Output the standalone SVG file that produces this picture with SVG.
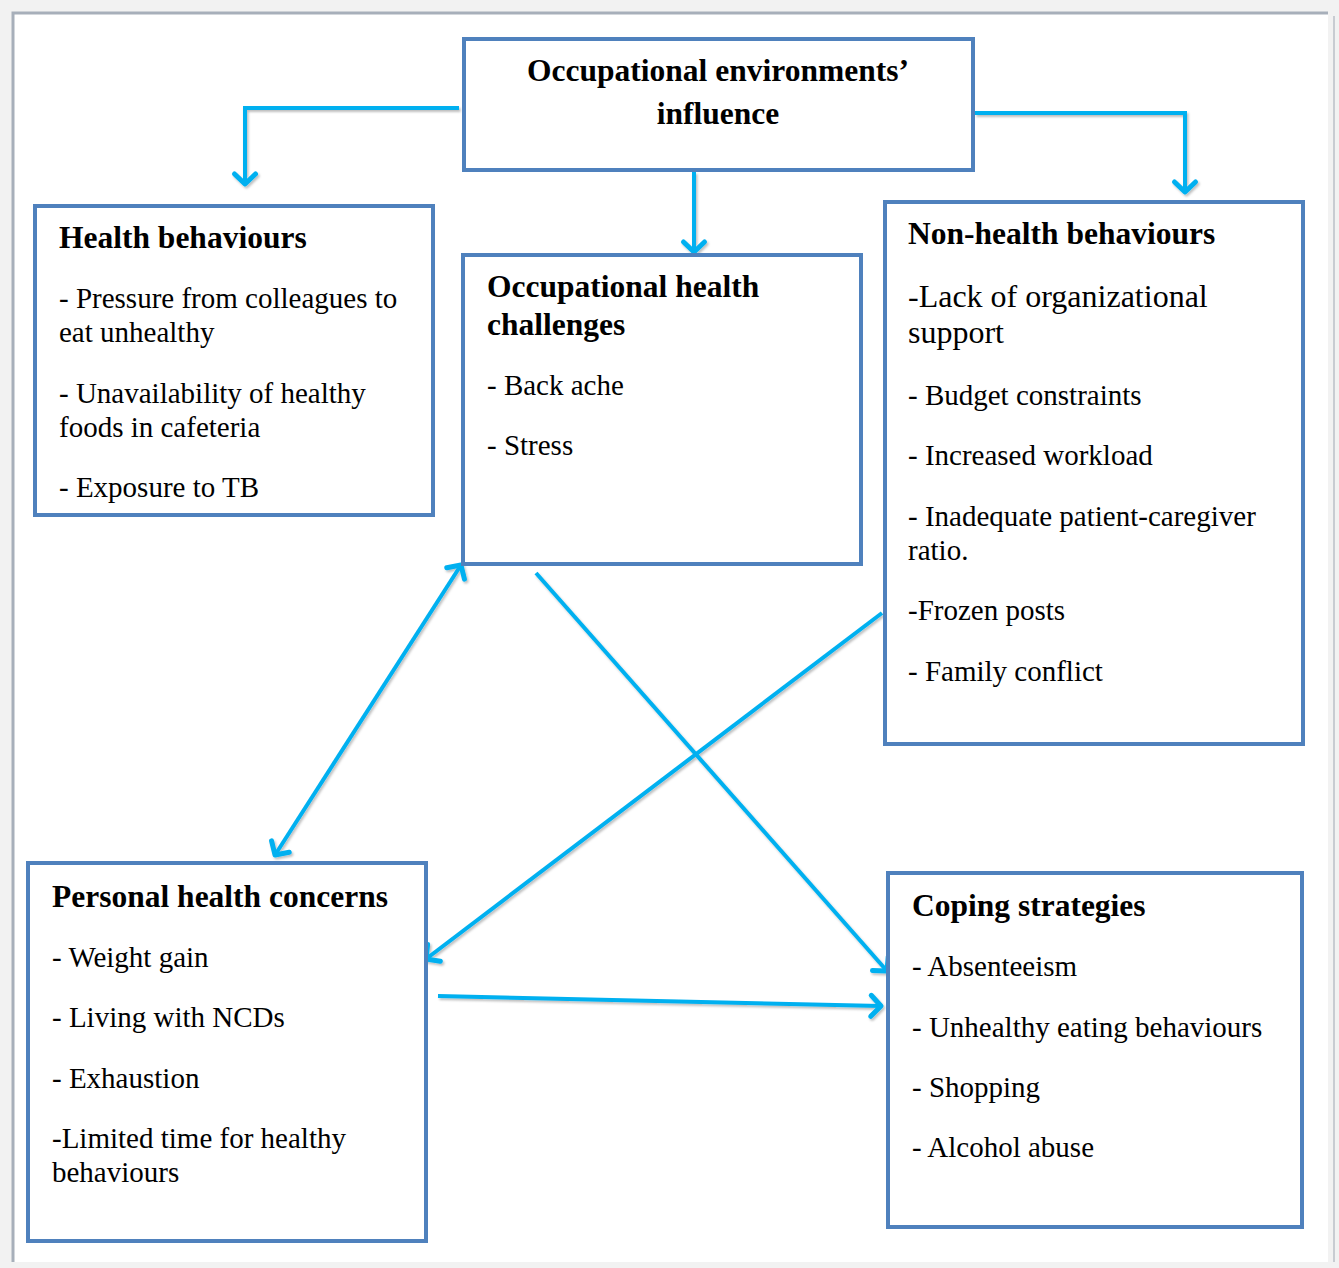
<svg xmlns="http://www.w3.org/2000/svg" width="1339" height="1268" viewBox="0 0 1339 1268">
<style>
.box{fill:#fff;stroke:#4f81bd;stroke-width:4}
.h{font-family:"Liberation Serif","Times New Roman",serif;font-weight:bold;font-size:31.5px;fill:#000}
.t{font-family:"Liberation Serif","Times New Roman",serif;font-size:29px;fill:#000}
.tl{font-size:32px}
.c{fill:none;stroke:#00b0f0;stroke-width:4;stroke-linejoin:miter}
</style>
<defs>
<marker id="ah" viewBox="0 0 26 26" refX="21" refY="13" markerWidth="26" markerHeight="26" orient="auto-start-reverse" markerUnits="userSpaceOnUse" overflow="visible">
<path d="M11,2.5 L21,13 L11,23.5" fill="none" stroke="#00b0f0" stroke-width="5" stroke-linecap="round" stroke-linejoin="round"/>
</marker>
<filter id="sh" x="-10%" y="-10%" width="120%" height="120%">
<feDropShadow dx="1.5" dy="2" stdDeviation="1.2" flood-color="#000" flood-opacity="0.25"/>
</filter>
</defs>
<rect x="0" y="0" width="1339" height="1268" fill="#f2f2f2"/>
<rect x="13" y="13" width="1315" height="1249" fill="#fff"/>
<path d="M13,1262 L13,13 L1328,13" fill="none" stroke="#a7afba" stroke-width="3"/>
<path d="M1334,16 L1334,1262" fill="none" stroke="#c8ccd2" stroke-width="2"/>

<g id="connectors" filter="url(#sh)">
<path class="c" d="M459,108 L245,108 L245,184" marker-end="url(#ah)"/>
<path class="c" d="M975,113 L1185,113 L1185,192" marker-end="url(#ah)"/>
<path class="c" d="M694,172 L694,252" marker-end="url(#ah)"/>
<path class="c" d="M461,565 L275,855" marker-start="url(#ah)" marker-end="url(#ah)"/>
<path class="c" d="M536,573 L887,971" marker-end="url(#ah)"/>
<path class="c" d="M882,613 L426,959" marker-end="url(#ah)"/>
<path class="c" d="M438,996 L881,1006" marker-end="url(#ah)"/>
</g>

<g id="node-influence">
<rect class="box" x="464" y="39" width="509" height="131"/>
<text class="h" x="718" y="81" text-anchor="middle">Occupational environments’</text>
<text class="h" x="718" y="124" text-anchor="middle">influence</text>
</g>

<g id="node-health-behaviours">
<rect class="box" x="35" y="206" width="398" height="309"/>
<text class="h" x="59" y="248">Health behaviours</text>
<text class="t" x="59" y="308">- Pressure from colleagues to</text>
<text class="t" x="59" y="342">eat unhealthy</text>
<text class="t" x="59" y="403">- Unavailability of healthy</text>
<text class="t" x="59" y="437">foods in cafeteria</text>
<text class="t" x="59" y="497">- Exposure to TB</text>
</g>

<g id="node-occupational-health">
<rect class="box" x="463" y="255" width="398" height="309"/>
<text class="h" x="487" y="297">Occupational health</text>
<text class="h" x="487" y="335">challenges</text>
<text class="t" x="487" y="395">- Back ache</text>
<text class="t" x="487" y="455">- Stress</text>
</g>

<g id="node-non-health">
<rect class="box" x="885" y="202" width="418" height="542"/>
<text class="h" x="908" y="244">Non-health behaviours</text>
<text class="t tl" x="908" y="307">-Lack of organizational</text>
<text class="t tl" x="908" y="343">support</text>
<text class="t" x="908" y="405">- Budget constraints</text>
<text class="t" x="908" y="465">- Increased workload</text>
<text class="t" x="908" y="526">- Inadequate patient-caregiver</text>
<text class="t" x="908" y="560">ratio.</text>
<text class="t" x="908" y="620">-Frozen posts</text>
<text class="t" x="908" y="681">- Family conflict</text>
</g>

<g id="node-personal">
<rect class="box" x="28" y="863" width="398" height="378"/>
<text class="h" x="52" y="907">Personal health concerns</text>
<text class="t" x="52" y="967">- Weight gain</text>
<text class="t" x="52" y="1027">- Living with NCDs</text>
<text class="t" x="52" y="1088">- Exhaustion</text>
<text class="t" x="52" y="1148">-Limited time for healthy</text>
<text class="t" x="52" y="1182">behaviours</text>
</g>

<g id="node-coping">
<rect class="box" x="888" y="873" width="414" height="354"/>
<text class="h" x="912" y="916">Coping strategies</text>
<text class="t" x="912" y="976">- Absenteeism</text>
<text class="t" x="912" y="1037">- Unhealthy eating behaviours</text>
<text class="t" x="912" y="1097">- Shopping</text>
<text class="t" x="912" y="1157">- Alcohol abuse</text>
</g>
</svg>
